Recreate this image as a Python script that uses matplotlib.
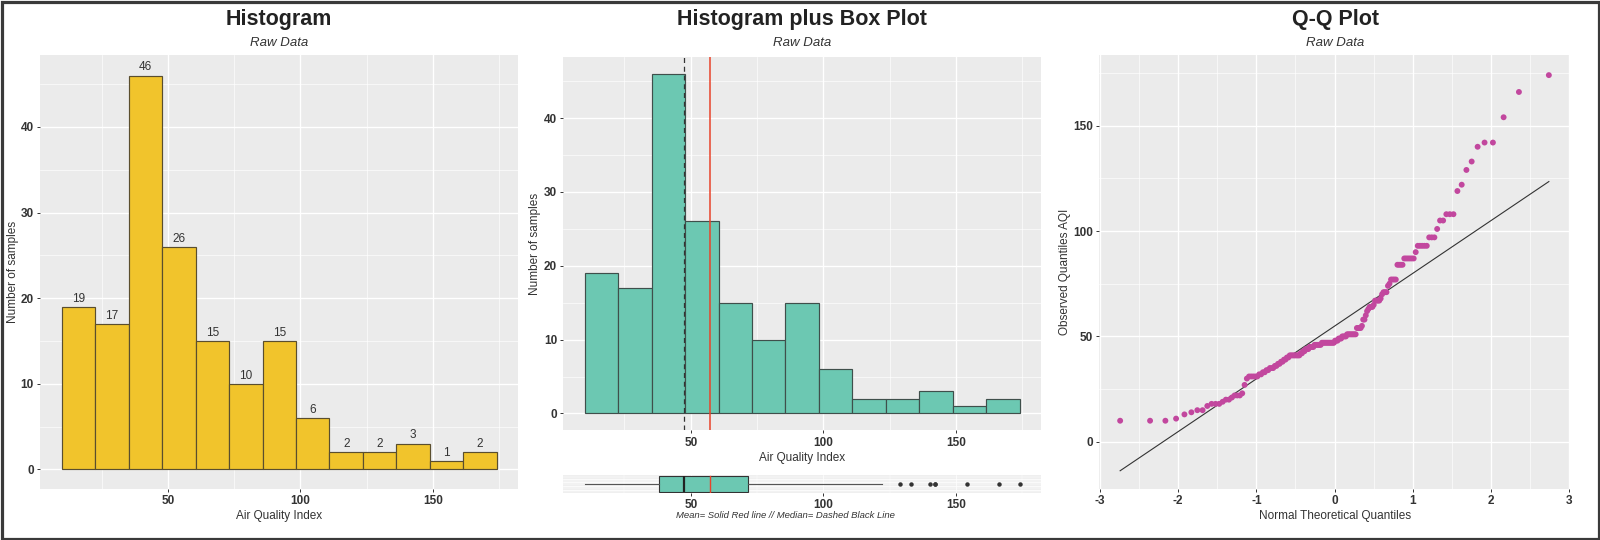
import matplotlib
matplotlib.use('Agg')
import matplotlib.pyplot as plt
import numpy as np
from statistics import NormalDist
from matplotlib.patches import Rectangle

plt.rcParams['font.family'] = ['Liberation Sans', 'DejaVu Sans']

aqi_10_35 = [10, 10, 10, 11, 13, 14, 15, 15, 17, 18, 18, 18, 19, 20, 20, 21, 22, 22, 22,
             23, 27, 30, 31, 31, 31, 31, 31, 32, 32, 33, 33, 34, 34, 35, 35, 35]
aqi_35_48 = [36, 36, 37, 37, 38, 38, 39, 39, 40, 40, 41, 41, 41, 41, 41, 41, 41, 41,
             42, 42, 43, 43, 44, 44, 44, 45, 45, 45, 45, 46, 46, 46, 46, 46, 46,
             47, 47, 47, 47, 47, 47, 47, 47, 47, 47, 47]
aqi_48_73 = [48, 48, 48, 49, 49, 49, 50, 50, 50, 50, 51, 51, 51, 51, 51, 51, 51, 51,
             54, 54, 54, 54, 55, 58, 58, 60,
             62, 63, 64, 64, 64, 65, 67, 67, 67, 67, 68, 70, 71, 71, 71]
aqi_73_174 = [74, 75, 77, 77, 77, 77, 84, 84, 84, 84,
              87, 87, 87, 87, 87, 87, 90, 93, 93, 93, 93, 93, 97, 97, 97,
              101, 105, 105, 108, 108, 108, 119, 122, 129, 133, 140, 142, 142, 154, 166, 174]
bin_counts = [19, 17, 46, 26, 15, 10, 15, 6, 2, 2, 3, 1, 2]
n_bins = 13
hist_range = (10, 174)

aqi = np.array(aqi_10_35 + aqi_35_48 + aqi_48_73 + aqi_73_174, dtype=float)

# ---- style ----
W, H = 1600, 540
PANEL = '#EBEBEB'
TXT = '#333333'
YELLOW = '#F1C42C'
TEAL = '#6CC8B2'
MAGENTA = '#C2479E'

fig = plt.figure(figsize=(W / 100, H / 100), dpi=100)


def px_axes(x0, y0, x1, y1):
    return fig.add_axes([x0 / W, 1 - y1 / H, (x1 - x0) / W, (y1 - y0) / H])


def ftext(x, y, s, **kw):
    kw.setdefault('ha', 'center')
    kw.setdefault('va', 'center')
    kw.setdefault('color', TXT)
    fig.text(x / W, 1 - y / H, s, **kw)


def style(ax, xmaj, xmin, ymaj, ymin, xlabels=True, ylabels=True):
    ax.set_facecolor(PANEL)
    for s in ax.spines.values():
        s.set_visible(False)
    if xlabels:
        ax.set_xticks(xmaj, labels=[f'{v:g}' for v in xmaj], fontweight='bold')
    else:
        ax.set_xticks(xmaj, labels=[''] * len(xmaj))
    ax.set_xticks(xmin, minor=True)
    if ylabels:
        ax.set_yticks(ymaj, labels=[f'{v:g}' for v in ymaj], fontweight='bold')
    else:
        ax.set_yticks(ymaj, labels=[''] * len(ymaj))
    ax.set_yticks(ymin, minor=True)
    ax.grid(True, which='major', color='white', lw=0.95)
    ax.grid(True, which='minor', color='white', lw=0.45)
    ax.set_axisbelow(True)
    ax.tick_params(which='major', length=2.5, width=0.7, color=TXT,
                   labelsize=8.5, labelcolor=TXT, pad=2)
    ax.tick_params(which='minor', length=0)


# ---- Panel 1: Histogram ----
ax1 = px_axes(40, 55, 518, 489)
counts, edges, _ = ax1.hist(aqi, bins=n_bins, range=hist_range, color=YELLOW,
                            edgecolor='#5A4E2E', linewidth=0.85, zorder=2)
for c, l, r in zip(bin_counts, edges[:-1], edges[1:]):
    ax1.text((l + r) / 2, c + 0.95, f'{c}', ha='center', va='center',
             fontsize=8.5, color=TXT, zorder=3)
ax1.set_xlim(1.8, 182)
ax1.set_ylim(-2.3, 48.4)
style(ax1, [50, 100, 150], [25, 75, 125, 175], [0, 10, 20, 30, 40], [5, 15, 25, 35, 45])

ftext(279, 19, 'Histogram', fontsize=15.5, fontweight='bold', color='#222222')
ftext(279, 43, 'Raw Data', fontsize=9.5, style='italic')
ftext(279, 515.5, 'Air Quality Index', fontsize=8.5)
ftext(13, 272, 'Number of samples', fontsize=8.5, rotation=90)

# ---- Panel 2: Histogram plus box plot ----
ax2 = px_axes(563.4, 56.8, 1041, 430.4)
ax2.hist(aqi, bins=n_bins, range=hist_range, color=TEAL,
         edgecolor='#3F4F4B', linewidth=0.85, zorder=2)
mean_v = aqi.mean()
median_v = np.median(aqi)
ax2.axvline(mean_v, color='#E8432A', lw=1.1, zorder=3)
ax2.axvline(median_v, color='#333333', lw=0.9, ls=(0, (4, 3)), zorder=3)
ax2.set_xlim(2, 182)
ax2.set_ylim(-2.3, 48.3)
style(ax2, [50, 100, 150], [25, 75, 125, 175], [0, 10, 20, 30, 40], [5, 15, 25, 35, 45])

ftext(802, 19, 'Histogram plus Box Plot', fontsize=15.5, fontweight='bold', color='#222222')
ftext(802, 43, 'Raw Data', fontsize=9.5, style='italic')
ftext(802, 458, 'Air Quality Index', fontsize=8.5)
ftext(535.4, 243.6, 'Number of samples', fontsize=8.5, rotation=90)

ax3 = px_axes(563.4, 475.2, 1041, 493.1)
ax3.boxplot(aqi, orientation='horizontal', positions=[0], widths=0.9, patch_artist=True,
            showcaps=False,
            boxprops=dict(facecolor=TEAL, edgecolor='#333333', linewidth=0.8),
            medianprops=dict(color='#222222', linewidth=1.6),
            whiskerprops=dict(color='#555555', linewidth=0.8),
            flierprops=dict(marker='o', markersize=2.2, markerfacecolor='#333333',
                            markeredgecolor='#333333'),
            zorder=2)
ax3.axvline(mean_v, ymin=0.05, ymax=0.95, color='#E8432A', lw=1.0, zorder=3)
ax3.set_xlim(2, 182)
ax3.set_ylim(-0.5, 0.5)
style(ax3, [50, 100, 150], [25, 75, 125, 175], [-0.3, -0.1, 0.1, 0.3], [-0.4, -0.2, 0.0, 0.2, 0.4],
      ylabels=False)
ax3.grid(True, which='major', color='white', lw=0.5)
ax3.grid(True, which='minor', color='white', lw=0.3)
ax3.tick_params(axis='y', which='both', length=0)
ax3.set_facecolor('#EFEFEF')
ftext(785, 515.5, 'Mean= Solid Red line // Median= Dashed Black Line', fontsize=6.8,
      style='italic')

# ---- Panel 3: Q-Q plot ----
ax4 = px_axes(1099, 55.1, 1570, 489)
nd = NormalDist()
n = len(aqi)
obs = np.sort(aqi)
theo = np.array([nd.inv_cdf((i + 0.5) / n) for i in range(n)])
q1, q3 = np.percentile(obs, [25, 75])
t1, t3 = nd.inv_cdf(0.25), nd.inv_cdf(0.75)
slope = (q3 - q1) / (t3 - t1)
intercept = q1 - slope * t1
xl = np.array([theo.min(), theo.max()])
ax4.plot(xl, intercept + slope * xl, color='#333333', lw=0.8, zorder=2)
ax4.scatter(theo, obs, s=18, color=MAGENTA, edgecolors='none', zorder=3)
ax4.set_xlim(-3.013, 3.013)
ax4.set_ylim(-22.4, 183.5)
style(ax4, [-3, -2, -1, 0, 1, 2, 3], [-2.5, -1.5, -0.5, 0.5, 1.5, 2.5],
      [0, 50, 100, 150], [25, 75, 125, 175])

ftext(1335, 19, 'Q-Q Plot', fontsize=15.5, fontweight='bold', color='#222222')
ftext(1335, 43, 'Raw Data', fontsize=9.5, style='italic')
ftext(1335, 515.5, 'Normal Theoretical Quantiles', fontsize=8.5)
ftext(1065, 272, 'Observed Quantiles AQI', fontsize=8.5, rotation=90)

# ---- outer frame ----
fig.patches.append(Rectangle((1.5 / W, 1.5 / H), 1 - 3 / W, 1 - 3 / H,
                             transform=fig.transFigure, fill=False,
                             edgecolor='#3A3A3A', linewidth=2.3))

fig.savefig('out.png', dpi=100, facecolor='white')
